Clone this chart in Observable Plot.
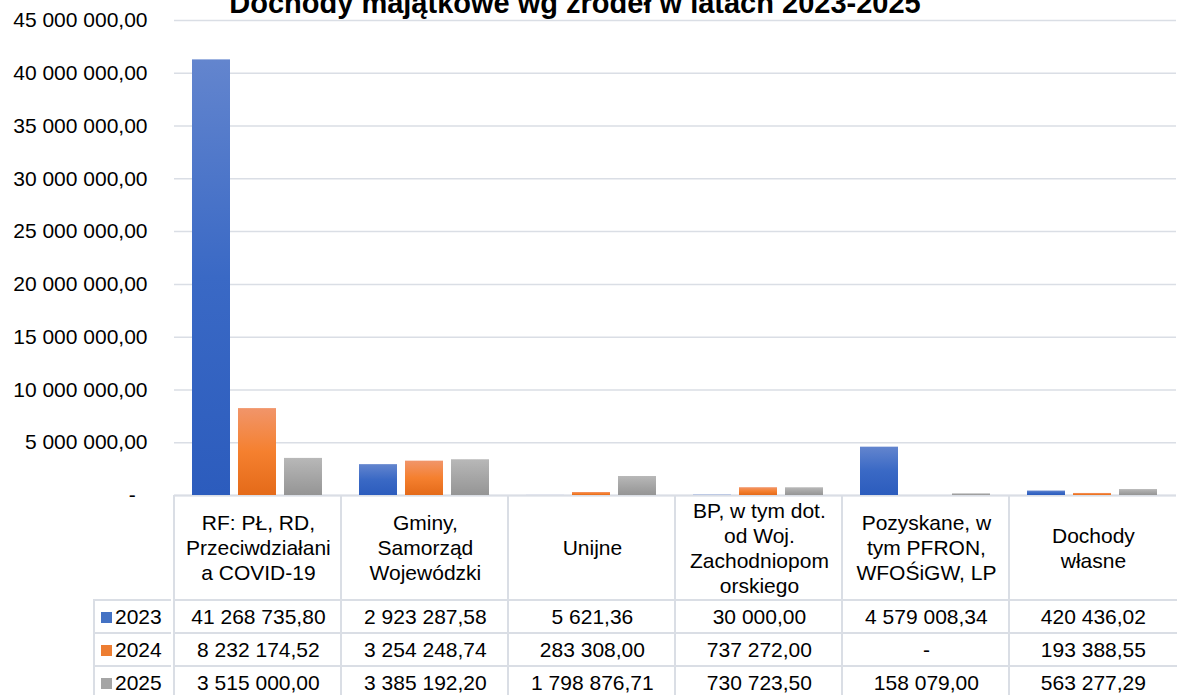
<!DOCTYPE html>
<html>
<head>
<meta charset="utf-8">
<script src="https://cdn.jsdelivr.net/npm/d3@7"></script>
<script src="https://cdn.jsdelivr.net/npm/@observablehq/plot@0.6"></script>
<style>
  html, body { margin: 0; padding: 0; background: #fff; overflow: hidden; }
  #wrap { position: relative; width: 1178px; height: 695px; overflow: hidden;
          font-family: "Liberation Sans", Arial, sans-serif; color: #000; }
  #title { position: absolute; left: 0; width: 1150px; top: -11px; text-align: center;
           font-weight: bold; font-size: 29px; line-height: 29px; white-space: nowrap; }
  #chart { position: absolute; left: 0; top: 0; }
  .cell { position: absolute; box-sizing: border-box; display: flex; align-items: center;
          justify-content: center; text-align: center; font-size: 21px; white-space: nowrap; }
  .hdr { line-height: 25px; padding-top: 0px; }
  .leg { justify-content: flex-start; padding-left: 6px; }
  .sw { display: inline-block; width: 11px; height: 11px; margin-right: 3px; }
</style>
</head>
<body>
<div id="wrap">
  <div id="chart"></div>
  <div id="title">Dochody majątkowe wg źródeł w latach 2023-2025</div>
  <div id="table"></div>
</div>
<script>
// ---------- data ----------
const categories = [
  "RF: PŁ, RD, Przeciwdziałania COVID-19",
  "Gminy, Samorząd Wojewódzki",
  "Unijne",
  "BP, w tym dot. od Woj. Zachodniopomorskiego",
  "Pozyskane, w tym PFRON, WFOŚiGW, LP",
  "Dochody własne"
];
const categoryLines = [
  ["RF: PŁ, RD,", "Przeciwdziałani", "a COVID-19"],
  ["Gminy,", "Samorząd", "Wojewódzki"],
  ["Unijne"],
  ["BP, w tym dot.", "od Woj.", "Zachodniopom", "orskiego"],
  ["Pozyskane, w", "tym PFRON,", "WFOŚiGW, LP"],
  ["Dochody", "własne"]
];
const years = ["2023", "2024", "2025"];
const values2023 = [41268735.80, 2923287.58, 5621.36, 30000.00, 4579008.34, 420436.02];
const values2024 = [8232174.52, 3254248.74, 283308.00, 737272.00, null, 193388.55];
const values2025 = [3515000.00, 3385192.20, 1798876.71, 730723.50, 158079.00, 563277.29];
const yTicks = [0, 5e6, 10e6, 15e6, 20e6, 25e6, 30e6, 35e6, 40e6, 45e6];
const seriesColors = ["#4472C4", "#ED7D31", "#A5A5A5"];
const gradientStops = [
  ["#6385CE", "#3A69C5", "#2C5CBD"],
  ["#F1956A", "#F5802F", "#E46A19"],
  ["#B8B8B8", "#A6A6A6", "#959595"]
];

// ---------- build ----------
const seriesValues = [values2023, values2024, values2025];
const rows = [];
categories.forEach((c, i) => years.forEach((y, j) => rows.push({category: c, year: y, value: seriesValues[j][i]})));

const FONT = '"Liberation Sans", Arial, sans-serif';
const LINE = "#dadee5";
const loc = d3.formatLocale({decimal: ",", thousands: "\u00a0", grouping: [3], currency: ["", ""]});
const f2 = loc.format(",.2f");
const fmtAxis = v => v === 0 ? "-\u00a0\u00a0" : f2(v);
const fmtCell = v => v == null ? "-" : f2(v);

const chart = Plot.plot({
  width: 1178,
  height: 500,
  marginTop: 20,
  marginBottom: 5,
  marginLeft: 171,
  marginRight: 0,
  style: {fontFamily: FONT, fontSize: "21px", color: "#000", background: "transparent", overflow: "visible"},
  fx: {domain: categories, padding: 0, axis: null},
  x: {domain: years, paddingInner: 0.17, paddingOuter: 0.39, axis: null},
  y: {domain: [0, 45e6], axis: null, label: null},
  color: {type: "ordinal", domain: years, range: years.map(y => `url(#grad-${y})`)},
  marks: [
    Plot.gridY(yTicks, {stroke: LINE, strokeOpacity: 1, strokeWidth: 1.5}),
    Plot.ruleY([0], {stroke: LINE, strokeWidth: 2}),
    Plot.barY(rows, {fx: "category", x: "year", y: "value", fill: "year"}),
    Plot.axisY(yTicks, {tickSize: 0, tickPadding: 27, tickFormat: fmtAxis, fontSize: 21, label: null})
  ]
});

// gradients
const ns = "http://www.w3.org/2000/svg";
const svg = chart.tagName.toLowerCase() === "svg" ? chart : chart.querySelector("svg");
const defs = document.createElementNS(ns, "defs");
years.forEach((y, i) => {
  const g = document.createElementNS(ns, "linearGradient");
  g.setAttribute("id", "grad-" + y);
  g.setAttribute("x1", "0"); g.setAttribute("y1", "0");
  g.setAttribute("x2", "0"); g.setAttribute("y2", "1");
  gradientStops[i].forEach((col, k) => {
    const s = document.createElementNS(ns, "stop");
    s.setAttribute("offset", String(k / (gradientStops[i].length - 1)));
    s.setAttribute("stop-color", col);
    g.appendChild(s);
  });
  defs.appendChild(g);
});
svg.insertBefore(defs, svg.firstChild);
document.getElementById("chart").appendChild(chart);

// ---------- data table under the chart, aligned with the fx scale ----------
const fxs = chart.scale("fx");
const step = (fxs.range[1] - fxs.range[0]) / categories.length;
const colX = c => (fxs.apply ? fxs.apply(c) : fxs.range[0] + categories.indexOf(c) * step);
const table = document.getElementById("table");
const headerTop = 495, headerH = 105, rowH = 33, legLeft = 93;
const plotLeft = fxs.range[0];

function cell(left, top, width, height, html, cls, borders) {
  const d = document.createElement("div");
  d.className = "cell " + (cls || "");
  Object.assign(d.style, {left: left + "px", top: top + "px", width: width + "px", height: height + "px"});
  if (borders.includes("l")) d.style.borderLeft = `2px solid ${LINE}`;
  if (borders.includes("t")) d.style.borderTop = `2px solid ${LINE}`;
  d.innerHTML = html;
  table.appendChild(d);
}

categories.forEach((c, i) => {
  cell(colX(c) - 1, headerTop, step + 1, headerH, categoryLines[i].join("<br>"), "hdr", "l");
});
years.forEach((y, j) => {
  const top = headerTop + headerH - 1 + j * rowH;
  cell(legLeft, top, plotLeft - legLeft, rowH + 1,
       `<span class="sw" style="background:${seriesColors[j]}"></span>${y}`, "leg", "lt");
  categories.forEach((c, i) => {
    cell(colX(c) - 1, top, step + 1, rowH + 1, fmtCell(seriesValues[j][i]), "", "lt");
  });
});
</script>
</body>
</html>
